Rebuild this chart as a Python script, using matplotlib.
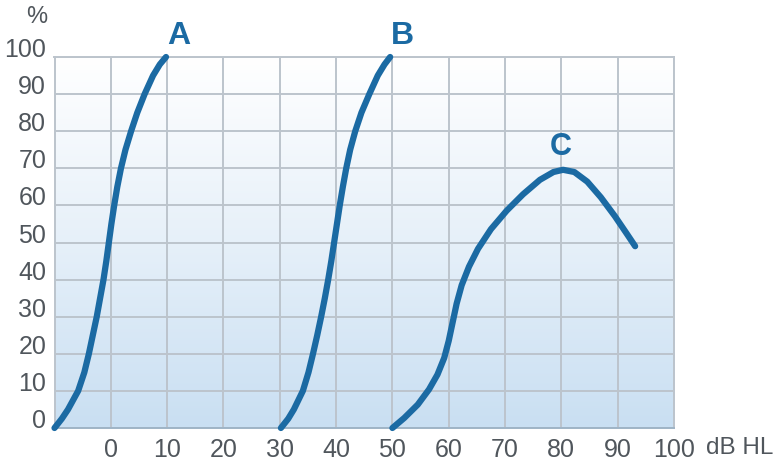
import numpy as np
import matplotlib
matplotlib.use("Agg")
import matplotlib.pyplot as plt
from matplotlib.colors import LinearSegmentedColormap

pct_levels = [0, 2.5, 5, 10, 15, 20, 25, 30, 35, 40, 45, 50, 55, 60, 65, 70,
              75, 80, 85, 90, 95, 98, 100]
curve_a_x = [-10, -8.7, -7.6, -5.8, -4.7, -3.9, -3.2, -2.5, -1.9, -1.3, -0.8,
             -0.35, 0.1, 0.6, 1.15, 1.8, 2.6, 3.6, 4.7, 6.0, 7.5, 8.7, 9.8]
curve_b_x = [30.2, 31.5, 32.5, 34.1, 35.1, 35.9, 36.65, 37.35, 38.0, 38.6, 39.15,
             39.65, 40.15, 40.65, 41.2, 41.8, 42.5, 43.4, 44.5, 45.9, 47.4, 48.6,
             49.6]

# curve C: roll-over curve
curve_c_x = [50, 52.1, 54.5, 56.5, 58.0, 59.2, 60.0, 60.7, 61.4, 62.3, 63.6,
             65.2, 67.5, 70.3, 73.2, 76.2, 78.6, 80.3, 82.3, 84.6, 87.0, 89.5,
             91.6, 93.1]
curve_c_y = [0, 2.7, 6.3, 10.4, 14.4, 18.9, 23.5, 28.5, 33.5, 38.5, 43.5,
             48.3, 53.6, 58.6, 63.0, 66.9, 69.0, 69.6, 69.0, 66.4, 62.2, 57.1,
             52.4, 49.0]

x_ticks = [0, 10, 20, 30, 40, 50, 60, 70, 80, 90, 100]
y_ticks = [0, 10, 20, 30, 40, 50, 60, 70, 80, 90, 100]

CURVE = "#1b6aa3"
LABEL = "#50565c"
GRID = "#bcc4cc"

plt.rcParams["font.family"] = ["Liberation Sans", "DejaVu Sans"]

fig = plt.figure(figsize=(7.77, 4.69), dpi=100)
ax = fig.add_axes([54.5 / 777, 41 / 469, 619.5 / 777, 371 / 469])

xmin, xmax = -10, 100
ax.set_xlim(xmin, xmax)
ax.set_ylim(0, 100)

# background gradient (white at top -> light blue at bottom)
grad = np.linspace(0, 1, 256).reshape(-1, 1)
cmap = LinearSegmentedColormap.from_list("bg", ["#c9dff2", "#e6f0f9", "#ffffff"])
ax.imshow(grad, extent=[xmin, xmax, 0, 100], origin="lower", aspect="auto",
          cmap=cmap, zorder=0)

for xv in x_ticks:
    ax.axvline(xv, color=GRID, lw=1.4, zorder=1)
for yv in y_ticks:
    ax.axhline(yv, color=GRID, lw=1.4, zorder=1)

line_kw = dict(color=CURVE, lw=4.5, solid_capstyle="round",
               solid_joinstyle="round", zorder=3, clip_on=False)
ax.plot(curve_a_x, pct_levels, **line_kw)
ax.plot(curve_b_x, pct_levels, **line_kw)
ax.plot(curve_c_x, curve_c_y, **line_kw)

ax.text(12.0, 101.6, "A", color=CURVE, fontsize=23, fontweight="bold",
        ha="center", va="bottom")
ax.text(51.8, 101.6, "B", color=CURVE, fontsize=23, fontweight="bold",
        ha="center", va="bottom")
ax.text(79.9, 71.8, "C", color=CURVE, fontsize=22, fontweight="bold",
        ha="center", va="bottom")

ax.set_xticks(x_ticks)
ax.set_yticks(y_ticks)
ax.set_xticklabels([str(v) for v in x_ticks])
ax.set_yticklabels([str(v) for v in y_ticks])
ax.tick_params(length=0, labelsize=18, labelcolor=LABEL)
ax.tick_params(axis="y", pad=6)
ax.tick_params(axis="x", pad=7)
for lab in ax.get_yticklabels():
    lab.set_va("baseline")

for s in ax.spines.values():
    s.set_color(GRID)
    s.set_linewidth(1.4)
ax.spines["bottom"].set_color("#9fb4c6")

fig.text(706 / 777, 1 - 448 / 469, "dB HL", fontsize=17.5, color=LABEL,
         ha="left", va="center")
fig.text(37 / 777, 1 - 17 / 469, "%", fontsize=17, color=LABEL,
         ha="center", va="center")

fig.savefig("out.png", dpi=100)
